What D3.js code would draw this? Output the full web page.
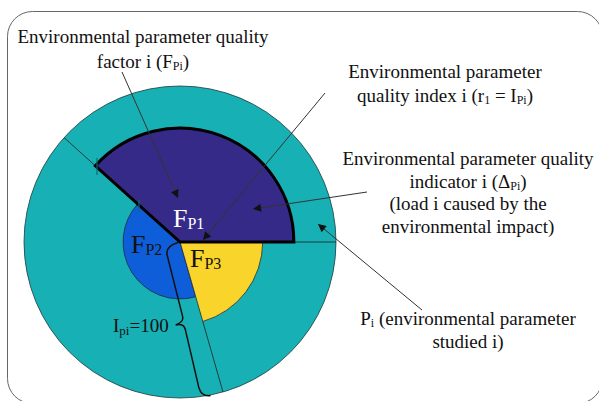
<!DOCTYPE html>
<html>
<head>
<script src="https://cdn.jsdelivr.net/npm/d3@7"></script>
<style>
body { margin: 0; background: #fff; }
svg { display: block; }
</style>
</head>
<body>
<script>
var width = 599, height = 401;
var cx = 180, cy = 242;
var fontFam = "Liberation Serif";

// data: sector radius in % of Ipi (=100), angles in degrees (d3 convention)
var sectorNames = ["P1", "P2", "P3"];
var sectorRadius = [73, 36.5, 53];
var sectorStart = [-48, 164, 90];
var sectorEnd = [90, 312, 164];
var ipiMax = 100;
var sectorColors = ["#352a87", "#0f5ed9", "#f9d42a"];

// annotation texts ( _{..} = subscript )
var labelFactor = ["Environmental parameter quality", "factor i (F_{Pi})"];
var labelIndex = ["Environmental parameter", "quality index i (r_{1} = I_{Pi})"];
var labelIndicator = ["Environmental parameter quality", "indicator i (\u0394_{Pi})",
                      "(load i caused by the", "environmental impact)"];
var labelParam = ["P_{i} (environmental parameter", "studied i)"];
var labelIpi = "I_{pi}=100";

var deg = Math.PI / 180;
var r = d3.scaleLinear().domain([0, ipiMax]).range([0, 156]);

var svg = d3.select("body").append("svg")
    .attr("width", width)
    .attr("height", height);

svg.append("defs").append("marker")
    .attr("id", "arr")
    .attr("viewBox", "0 0 10 10")
    .attr("refX", 10).attr("refY", 5)
    .attr("markerWidth", 10).attr("markerHeight", 8)
    .attr("markerUnits", "userSpaceOnUse")
    .attr("orient", "auto")
    .append("path").attr("d", "M0,0 L10,5 L0,10 z").attr("fill", "#111");

// frame
svg.append("rect")
    .attr("x", 7.5).attr("y", 11.5)
    .attr("width", 595).attr("height", 392)
    .attr("rx", 25).attr("ry", 25)
    .attr("fill", "none").attr("stroke", "#666").attr("stroke-width", 1);

var g = svg.append("g").attr("transform", "translate(" + cx + "," + cy + ")");
var arc = d3.arc();

// environmental parameter (whole circle)
g.append("path")
    .attr("d", arc({innerRadius: 0, outerRadius: r(ipiMax), startAngle: 0, endAngle: 2 * Math.PI}))
    .attr("fill", "#17b0b4").attr("stroke", "#1d3a3c").attr("stroke-width", 0.8);

function pt(a, rad) { return [Math.sin(a * deg) * rad, -Math.cos(a * deg) * rad]; }

// radial lines from sector edges to the outer circle
[[sectorStart[0], sectorRadius[0]], [sectorEnd[0], sectorRadius[0]], [sectorEnd[2], sectorRadius[2]]]
  .forEach(function(d) {
    var p0 = pt(d[0], r(d[1])), p1 = pt(d[0], r(ipiMax));
    g.append("line")
        .attr("x1", p0[0]).attr("y1", p0[1]).attr("x2", p1[0]).attr("y2", p1[1])
        .attr("stroke", "#1f2f30").attr("stroke-width", 0.9);
  });

// sectors P2, P3 then P1 on top
[1, 2, 0].forEach(function(i) {
  g.append("path")
      .attr("d", arc({innerRadius: 0, outerRadius: r(sectorRadius[i]),
                      startAngle: sectorStart[i] * deg, endAngle: sectorEnd[i] * deg}))
      .attr("fill", sectorColors[i])
      .attr("stroke", i == 0 ? "#000" : "#1c2a44")
      .attr("stroke-width", i == 0 ? 3 : 0.8)
      .attr("stroke-linejoin", "miter");
});

// small tick marks
[[97, 158, 97, 175], [139, 200, 139, 213]].forEach(function(t) {
  svg.append("line")
      .attr("x1", t[0]).attr("y1", t[1]).attr("x2", t[2]).attr("y2", t[3])
      .attr("stroke", "#0c6b6e").attr("stroke-width", 1.2);
});

// brace along the Ipi radius
g.append("g")
    .attr("transform", "rotate(" + (sectorEnd[2] - 180) + ")")
    .append("path")
    .attr("d", "M-2,0 Q-16,0 -16,10 L-18,72 Q-18,78 -27,78.5 Q-19,79 -19,85 L-22,145 Q-22,155 -13,156")
    .attr("fill", "none").attr("stroke", "#111").attr("stroke-width", 1.5);

// arrows
[[122, 72, 178, 198], [325, 93, 203, 240], [367, 192, 253, 209], [422, 310, 318, 224]]
  .forEach(function(a) {
    svg.append("line")
        .attr("x1", a[0]).attr("y1", a[1]).attr("x2", a[2]).attr("y2", a[3])
        .attr("stroke", "#333").attr("stroke-width", 1)
        .attr("marker-end", "url(#arr)");
  });

function addText(x, y, str, size, subSize, fill, anchor, shift) {
  var t = svg.append("text")
      .attr("x", x).attr("y", y)
      .attr("font-family", fontFam)
      .attr("font-size", size)
      .attr("fill", fill)
      .attr("text-anchor", anchor)
      .style("font-family", fontFam);
  var parts = str.split(/(_\{[^}]*\})/);
  var down = false;
  parts.forEach(function(p) {
    if (p === "") return;
    var s = t.append("tspan")
        .attr("font-family", fontFam)
        .style("font-family", fontFam);
    if (p.indexOf("_{") == 0) {
      s.attr("font-size", subSize).attr("dy", shift).text(p.slice(2, -1));
      down = true;
    } else {
      s.attr("font-size", size).text(p);
      if (down) { s.attr("dy", -shift); down = false; }
    }
  });
}

function addBlock(lines, x, y0, step) {
  lines.forEach(function(l, i) {
    addText(x, y0 + i * step, l, 19, 12, "#111", "middle", 2);
  });
}

addBlock(labelFactor, 143, 43, 25);
addBlock(labelIndex, 445, 78, 24);
addBlock(labelIndicator, 468, 165, 22.7);
addBlock(labelParam, 468, 325, 23);
addText(113, 332, labelIpi, 19, 13, "#111", "start", 3);

// sector names
var nameFill = ["#ffffff", "#111", "#111"];
var namePos = [[173, 227], [131, 253], [190, 267]];
sectorNames.forEach(function(n, i) {
  addText(namePos[i][0], namePos[i][1], "F_{" + n + "}", 26, 16, nameFill[i], "start", 2);
});
</script>
</body>
</html>
